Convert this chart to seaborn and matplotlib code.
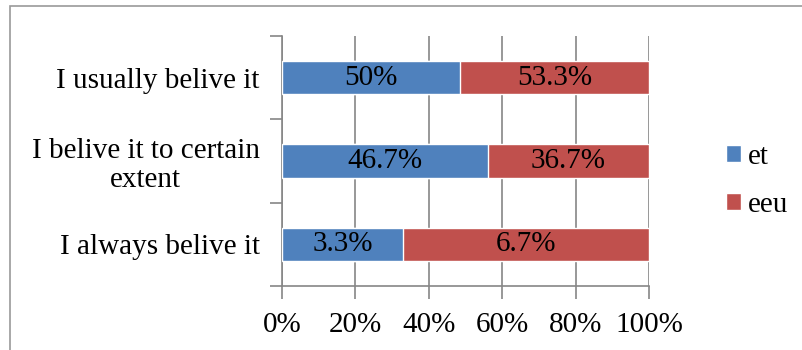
import matplotlib
matplotlib.use("Agg")
import matplotlib.pyplot as plt
import seaborn as sns
import pandas as pd
from matplotlib.patches import Rectangle, Patch

categories = ["I usually belive it", "I belive it to certain\nextent", "I always belive it"]
et = [50, 46.7, 3.3]
eeu = [53.3, 36.7, 6.7]
series_names = ["et", "eeu"]
xticks = [0, 20, 40, 60, 80, 100]

blue = "#4F81BD"
red = "#C0504D"
grey = "#868686"

sns.set_style("white")
plt.rcParams["font.family"] = ["Liberation Serif", "DejaVu Serif"]
plt.rcParams["font.size"] = 21
plt.rcParams["text.color"] = "black"
plt.rcParams["xtick.color"] = grey
plt.rcParams["ytick.color"] = grey
plt.rcParams["xtick.labelcolor"] = "black"
plt.rcParams["ytick.labelcolor"] = "black"

df = pd.DataFrame({"cat": categories, "et": et, "eeu": eeu})
df["total"] = 100.0
df["et_share"] = df["et"] / (df["et"] + df["eeu"]) * 100

fig = plt.figure(figsize=(8.02, 3.5), dpi=100)
ax = fig.add_axes([282 / 802, 1 - 286 / 350, (649 - 282) / 802, (286 - 36) / 350])

sns.barplot(data=df, y="cat", x="total", color=red, orient="h", width=0.4,
            saturation=1, ax=ax, zorder=2)
sns.barplot(data=df, y="cat", x="et_share", color=blue, orient="h", width=0.4,
            saturation=1, ax=ax, zorder=3)

# segment labels show the raw percentages
for i, row in df.iterrows():
    ax.text(row["et_share"] / 2, i, f"{row['et']:g}%", ha="center", va="center",
            fontsize=21, color="black", zorder=4)
    ax.text((row["et_share"] + 100) / 2, i, f"{row['eeu']:g}%", ha="center",
            va="center", fontsize=21, color="black", zorder=4)

ax.set_xlim(0, 100)
ax.set_ylim(2.5, -0.5)
ax.set_xticks(xticks)
ax.set_xticklabels([f"{t}%" for t in xticks])
ax.set_yticks([-0.5, 0.5, 1.5, 2.5])
ax.set_yticklabels([])
ax.set_yticks(range(len(categories)), minor=True)
ax.set_yticklabels(categories, minor=True, multialignment="center", linespacing=1.15)
ax.tick_params(axis="y", which="major", left=True, direction="out", length=9, width=1.2)
ax.tick_params(axis="y", which="minor", left=False, length=0, pad=16)
ax.tick_params(axis="x", bottom=True, direction="out", length=9, width=1.2, pad=10)
ax.set_xlabel("")
ax.set_ylabel("")

ax.xaxis.grid(True, color=grey, linewidth=1.2, zorder=0)
ax.set_axisbelow(True)
for side in ["top", "right"]:
    ax.spines[side].set_visible(False)
for side in ["left", "bottom"]:
    ax.spines[side].set_color(grey)
    ax.spines[side].set_linewidth(1.2)

handles = [Patch(facecolor=blue, label=series_names[0]),
           Patch(facecolor=red, label=series_names[1])]
fig.legend(handles=handles, loc="center left", bbox_to_anchor=(726 / 802, 1 - 181 / 350),
           frameon=False, handlelength=0.5, handleheight=0.5, handletextpad=0.25,
           labelspacing=0.75, fontsize=21, borderpad=0, borderaxespad=0)

fig.patches.append(Rectangle((10 / 802, -0.2), 1.0, 1.2 - 6 / 350, transform=fig.transFigure,
                             fill=False, edgecolor="#9a9a9a", linewidth=1.2))

fig.savefig("out.png", dpi=100)
